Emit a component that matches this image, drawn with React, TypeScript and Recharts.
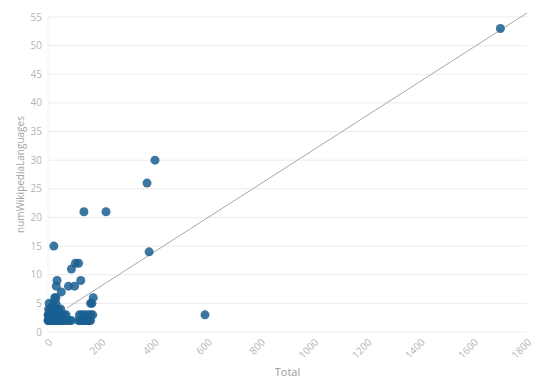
import React from 'react'
import {
    ScatterChart, Scatter, XAxis, YAxis, CartesianGrid, ReferenceLine,
} from 'recharts'

// Total (x) and numWikipediaLanguages (y)
const totals = [
    0, 2, 4, 5, 8, 10, 12, 15, 18, 20, 25, 30, 35, 40, 45, 50, 55, 60, 70, 80, 88,
    0, 3, 6, 9, 12, 16, 20, 24, 28, 33, 38, 45, 52, 60, 68,
    2, 8, 14, 20, 26, 32, 40, 48,
    4, 20, 30,
    25, 30,
    115, 120, 125, 130, 140, 145, 150, 155, 160,
    118, 128, 138, 150, 160, 168,
    160, 165, 170,
    50, 31, 77, 100, 34, 123, 88, 103, 115,
    22, 135, 218, 380, 372, 402, 590, 1700,
]
const languages = [
    2, 2, 2, 2, 2, 2, 2, 2, 2, 2, 2, 2, 2, 2, 2, 2, 2, 2, 2, 2, 2,
    3, 3, 3, 3, 3, 3, 3, 3, 3, 3, 3, 3, 3, 3, 3,
    4, 4, 4, 4, 4, 4, 4, 4,
    5, 5, 5,
    6, 6,
    2, 2, 2, 2, 2, 2, 2, 2, 2,
    3, 3, 3, 3, 3, 3,
    5, 5, 6,
    7, 8, 8, 8, 9, 9, 11, 12, 12,
    15, 21, 21, 14, 26, 30, 3, 53,
]

const xTicks = [0, 200, 400, 600, 800, 1000, 1200, 1400, 1600, 1800]
const yTicks = [0, 5, 10, 15, 20, 25, 30, 35, 40, 45, 50, 55]

// fitted trend line end points
const trendX = [71, 1800]
const trendY = [4.2, 55.7]

const points = totals.map((t, i) => ({ total: t, langs: languages[i] }))

const font = '"Open Sans", sans-serif'
const tickStyle = { fontSize: 10, fill: '#b5b5b5', fontFamily: font }

export default function App() {
    return (
        <div style={{ position: 'absolute', left: 0, top: 0, background: '#fff' }}>
            <ScatterChart width={540} height={390} margin={{ top: 17, right: 13, left: 0, bottom: 0 }}>
                <CartesianGrid vertical={false} stroke="#ececec" />
                <XAxis
                    type="number"
                    dataKey="total"
                    domain={[0, 1800]}
                    ticks={xTicks}
                    height={58}
                    axisLine={false}
                    tickLine={false}
                    tickMargin={0}
                    angle={-45}
                    textAnchor="end"
                    tick={tickStyle}
                    label={{ value: 'Total', position: 'insideBottom', offset: 14, style: { fontSize: 11, fill: '#9a9a9a', fontFamily: font } }}
                />
                <YAxis
                    type="number"
                    dataKey="langs"
                    domain={[0, 55]}
                    ticks={yTicks}
                    width={48}
                    axisLine={{ stroke: '#f3f3f3' }}
                    tickLine={false}
                    tickMargin={0}
                    tick={tickStyle}
                    label={{ value: 'numWikipediaLanguages', angle: -90, position: 'insideLeft', offset: 20, style: { textAnchor: 'middle', fontSize: 10, fill: '#a5a5a5', fontFamily: font } }}
                />
                <ReferenceLine
                    segment={[{ x: trendX[0], y: trendY[0] }, { x: trendX[1], y: trendY[1] }]}
                    stroke="#a8a8a8"
                    strokeWidth={1}
                    ifOverflow="visible"
                />
                <Scatter
                    data={points}
                    fill="#1a5f92"
                    fillOpacity={0.85}
                    isAnimationActive={false}
                    shape={(p: any) => <circle cx={p.cx} cy={p.cy} r={4.5} fill="#1a5f92" fillOpacity={0.85} />}
                />
            </ScatterChart>
        </div>
    )
}
